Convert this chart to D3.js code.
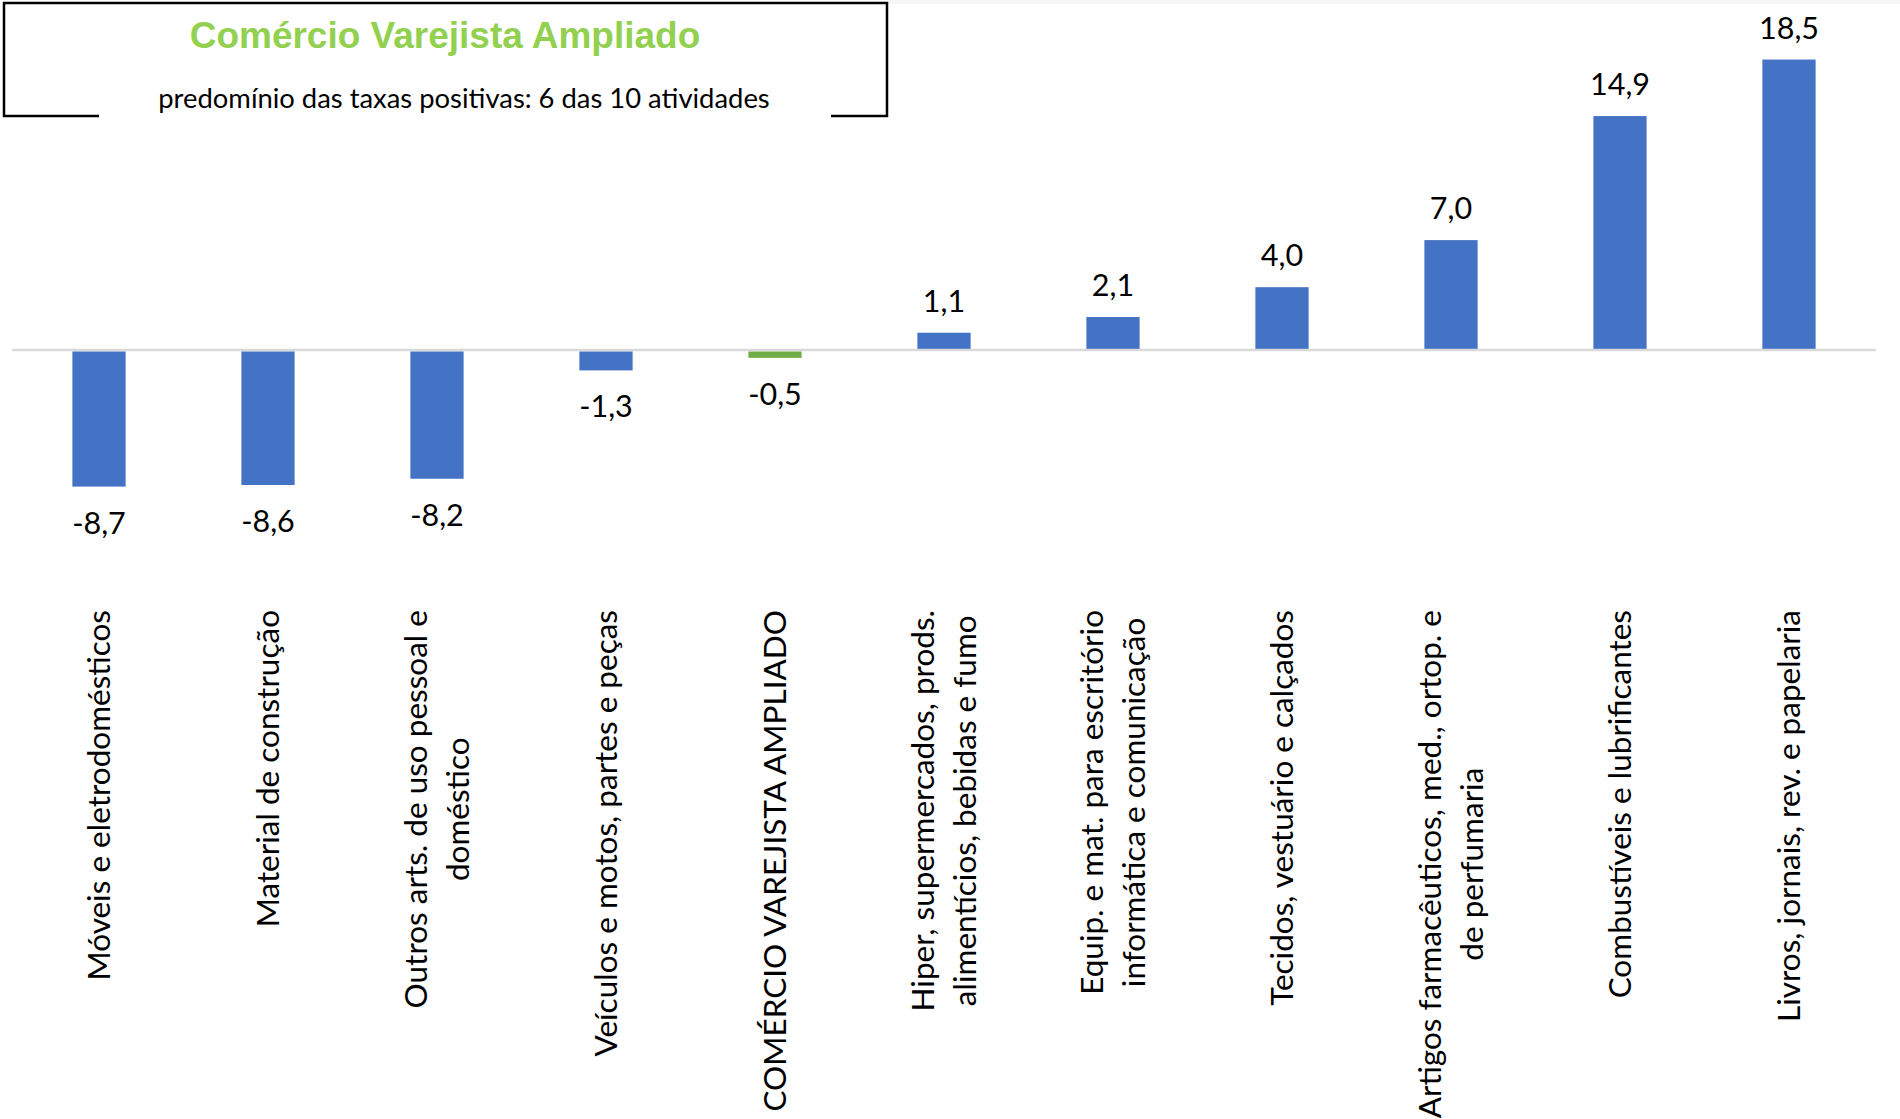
<!DOCTYPE html>
<html>
<head>
<meta charset="utf-8">
<script src="https://cdn.jsdelivr.net/npm/d3@7"></script>
<style>
  body { margin: 0; background: #fff; }
  svg { display: block; }
</style>
</head>
<body>
<div id="vis"></div>
<script>
// atividades (rótulos já quebrados em linhas)
const categories = [
  ["Móveis e eletrodomésticos"],
  ["Material de construção"],
  ["Outros arts. de uso pessoal e", "doméstico"],
  ["Veículos e motos, partes e peças"],
  ["COMÉRCIO VAREJISTA AMPLIADO"],
  ["Hiper, supermercados, prods.", "alimentícios, bebidas e fumo"],
  ["Equip. e mat. para escritório", "informática e comunicação"],
  ["Tecidos, vestuário e calçados"],
  ["Artigos farmacêuticos, med., ortop. e", "de perfumaria"],
  ["Combustíveis e lubrificantes"],
  ["Livros, jornais, rev. e papelaria"]
];
const values = [-8.7, -8.6, -8.2, -1.3, -0.5, 1.1, 2.1, 4.0, 7.0, 14.9, 18.5];
const totalIndex = 4; // barra do total em verde

const title = "Comércio Varejista Ampliado";
const subtitle = "predomínio das taxas positivas: 6 das 10 atividades";

const W = 1900, H = 1119;
const svg = d3.select("#vis").append("svg")
  .attr("width", W).attr("height", H);

svg.append("rect").attr("width", W).attr("height", H).attr("fill", "#fff");
// faixa cinza no topo
svg.append("rect").attr("x", 888).attr("y", 0).attr("width", W - 888).attr("height", 4).attr("fill", "#f6f6f6");

const data = values.map((v, i) => ({ i, v, lines: categories[i] }));

const x = d3.scaleBand()
  .domain(data.map(d => d.i))
  .range([14.5, 1873.5])
  .paddingInner(0.685)
  .paddingOuter(0.3425);

// 350 px = zero, 15.7 px por ponto
const y = d3.scaleLinear()
  .domain([-8.7, 18.5])
  .range([350 + 8.7 * 15.7, 350 - 18.5 * 15.7]);

// linha do zero
svg.append("line")
  .attr("x1", 12).attr("x2", 1876)
  .attr("y1", y(0)).attr("y2", y(0))
  .attr("stroke", "#d9d9d9").attr("stroke-width", 2.5);

svg.selectAll(".bar")
  .data(data)
  .join("rect")
  .attr("class", "bar")
  .attr("x", d => x(d.i))
  .attr("width", x.bandwidth())
  .attr("y", d => d.v >= 0 ? y(d.v) : y(0) + 1.5)
  .attr("height", d => Math.abs(y(d.v) - y(0)) - (d.v >= 0 ? 1.2 : 1.5))
  .attr("fill", d => d.i === totalIndex ? "#70ad47" : "#4472c4");

const numFmt = v => d3.format(".1f")(v).replace(".", ",").replace("−", "-");

svg.selectAll(".val")
  .data(data)
  .join("text")
  .attr("class", "val")
  .attr("x", d => x(d.i) + x.bandwidth() / 2)
  .attr("y", d => d.v >= 0 ? y(d.v) - 21 : y(d.v) + 47)
  .attr("text-anchor", "middle")
  .style("font-family", "Lato, 'Liberation Sans', sans-serif")
  .style("font-size", "30.5px")
  .attr("fill", "#000")
  .text(d => numFmt(d.v));

// rótulos das categorias, rotacionados, alinhados pelo topo
const labelTop = 610;
const lineGap = 42;
const cat = svg.selectAll(".cat")
  .data(data)
  .join("g")
  .attr("class", "cat")
  .attr("transform", d => `translate(${x(d.i) + x.bandwidth() / 2},${labelTop}) rotate(-90)`);

cat.each(function(d) {
  const g = d3.select(this);
  const n = d.lines.length;
  const texts = d.lines.map((line, k) => g.append("text")
    .attr("y", (k - (n - 1) / 2) * lineGap)
    .attr("dy", "0.35em")
    .attr("text-anchor", "middle")
    .style("font-family", "Lato, 'Liberation Sans', sans-serif")
    .style("font-size", "31.5px")
    .attr("fill", "#000")
    .text(line));
  const maxLen = d3.max(texts, t => t.node().getComputedTextLength());
  texts.forEach(t => t.attr("x", -maxLen / 2));
});

// caixa do título (borda inferior interrompida)
svg.append("path")
  .attr("d", "M99,116 H4 V3 H887 V116 H831")
  .attr("fill", "none")
  .attr("stroke", "#000")
  .attr("stroke-width", 2.5);

svg.append("text")
  .attr("x", 445).attr("y", 48)
  .attr("text-anchor", "middle")
  .style("font-family", "'Liberation Sans', Arial, sans-serif")
  .style("font-weight", "bold")
  .style("font-size", "37px")
  .attr("fill", "#92d050")
  .text(title);

svg.append("text")
  .attr("x", 464).attr("y", 108)
  .attr("text-anchor", "middle")
  .style("font-family", "Lato, 'Liberation Sans', sans-serif")
  .style("font-size", "27.4px")
  .attr("fill", "#000")
  .text(subtitle);
</script>
</body>
</html>
